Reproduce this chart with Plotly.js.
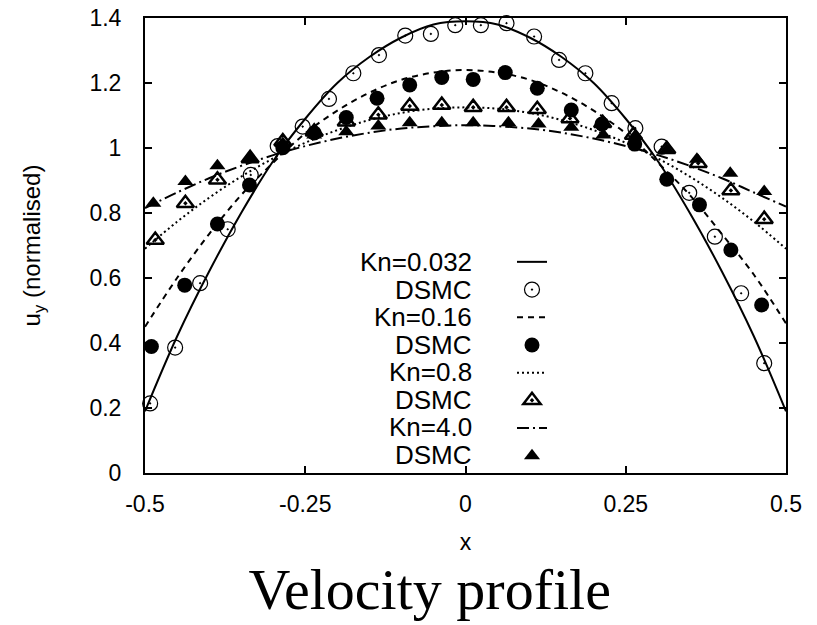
<!DOCTYPE html>
<html>
<head>
<meta charset="utf-8">
<script src="https://cdn.plot.ly/plotly-3.0.1.min.js"></script>
<style>html,body{margin:0;padding:0;background:#fff;}#chart{width:817px;height:625px;}</style>
</head>
<body>
<div id="chart"></div>
<script>
// Analytical curves
const xCurve = [-0.5,-0.45,-0.4,-0.35,-0.3,-0.25,-0.2,-0.15,-0.1,-0.05,0,0.05,0.1,0.15,0.2,0.25,0.3,0.35,0.4,0.45,0.5];
const yKn0032 = [0.19,0.42,0.62,0.80,0.96,1.09,1.20,1.28,1.34,1.38,1.39,1.38,1.34,1.28,1.20,1.09,0.96,0.80,0.62,0.42,0.19];
const yKn016  = [0.45,0.60,0.735,0.855,0.955,1.045,1.115,1.17,1.21,1.232,1.24,1.232,1.21,1.17,1.115,1.045,0.955,0.855,0.735,0.61,0.46];
const yKn08   = [0.69,0.773,0.847,0.912,0.968,1.016,1.055,1.086,1.108,1.121,1.125,1.121,1.108,1.086,1.055,1.016,0.968,0.912,0.847,0.773,0.69];
const yKn40   = [0.815,0.863,0.907,0.945,0.978,1.006,1.029,1.047,1.06,1.067,1.07,1.067,1.06,1.047,1.029,1.006,0.978,0.945,0.907,0.863,0.82];

// DSMC points
const xD0032 = [-0.492,-0.453,-0.414,-0.371,-0.335,-0.293,-0.254,-0.213,-0.175,-0.135,-0.094,-0.054,-0.016,0.024,0.064,0.107,0.146,0.187,0.228,0.265,0.306,0.349,0.389,0.430,0.466];
const yD0032 = [0.214,0.386,0.584,0.750,0.917,1.006,1.066,1.151,1.230,1.286,1.346,1.351,1.378,1.378,1.384,1.343,1.271,1.230,1.138,1.061,1.004,0.862,0.727,0.553,0.338];
const xD016 = [-0.490,-0.438,-0.387,-0.337,-0.285,-0.236,-0.186,-0.138,-0.087,-0.037,0.012,0.062,0.112,0.165,0.213,0.264,0.314,0.365,0.414,0.462];
const yD016 = [0.389,0.578,0.766,0.886,1.001,1.046,1.094,1.153,1.194,1.217,1.211,1.232,1.184,1.117,1.074,1.012,0.904,0.825,0.686,0.517];
const xD08 = [-0.484,-0.437,-0.387,-0.336,-0.285,-0.236,-0.186,-0.136,-0.087,-0.037,0.012,0.064,0.112,0.163,0.214,0.262,0.314,0.363,0.414,0.466];
const yD08 = [0.717,0.830,0.902,0.968,1.020,1.050,1.081,1.102,1.129,1.132,1.125,1.125,1.119,1.091,1.076,1.040,0.996,0.953,0.869,0.781];
const xD40 = [-0.487,-0.437,-0.387,-0.336,-0.285,-0.236,-0.186,-0.136,-0.087,-0.037,0.012,0.067,0.114,0.165,0.215,0.264,0.314,0.361,0.413,0.466];
const yD40 = [0.830,0.897,0.945,0.971,1.014,1.040,1.050,1.068,1.078,1.078,1.078,1.078,1.074,1.064,1.040,1.035,0.994,0.965,0.922,0.866];

const legendLabels = ['Kn=0.032','DSMC','Kn=0.16','DSMC','Kn=0.8','DSMC','Kn=4.0','DSMC'];
const xTicks = [-0.5,-0.25,0,0.25,0.5];
const xTickText = ['-0.5','-0.25','0','0.25','0.5'];
const yTicks = [0,0.2,0.4,0.6,0.8,1,1.2,1.4];
const yTickText = ['0','0.2','0.4','0.6','0.8','1','1.2','1.4'];

const black = '#000';
const traces = [
  {x:xCurve, y:yKn0032, mode:'lines', name:'', line:{color:black,width:2,shape:'spline'}},
  {x:xD0032, y:yD0032, mode:'markers', name:'', marker:{symbol:'circle-open-dot',size:15,color:black,line:{width:1.2,color:black}}},
  {x:xCurve, y:yKn016, mode:'lines', name:'', line:{color:black,width:2,dash:'6px,5px',shape:'spline'}},
  {x:xD016, y:yD016, mode:'markers', name:'', marker:{symbol:'circle',size:15,color:black}},
  {x:xCurve, y:yKn08, mode:'lines', name:'', line:{color:black,width:2,dash:'2px,3px',shape:'spline'}},
  {x:xD08, y:yD08, mode:'markers', name:'', marker:{symbol:'triangle-up-open-dot',size:15,color:black,line:{width:2.5,color:black}}},
  {x:xCurve, y:yKn40, mode:'lines', name:'', line:{color:black,width:2,dash:'12px,4px,2px,4px',shape:'spline'}},
  {x:xD40, y:yD40, mode:'markers', name:'', marker:{symbol:'triangle-up',size:14,color:black}}
];
traces.forEach(t => { t.cliponaxis = false; t.showlegend = true; });

const rowY = [262,290,317,345,372,400,427,455];
const annotations = legendLabels.map((txt,i) => ({
  text: txt, xref:'paper', yref:'paper', x:(474-145)/641, y:(473-rowY[i])/455,
  xanchor:'right', yanchor:'middle', showarrow:false,
  font:{family:'Liberation Sans, Arial, sans-serif', size:26, color:black}
}));

const font = {family:'Liberation Sans, Arial, sans-serif', color:black};
const layout = {
  width:817, height:625,
  margin:{l:145, r:31, t:18, b:152, pad:0},
  paper_bgcolor:'#fff', plot_bgcolor:'#fff',
  font: Object.assign({size:23}, font),
  title:{text:'Velocity profile', font:{family:'Liberation Serif, Times New Roman, serif', size:58, color:black},
         xref:'container', yref:'container', x:0.526, xanchor:'center', y:0.058, yanchor:'middle'},
  xaxis:{range:[-0.5,0.5], tickvals:xTicks, ticktext:xTickText, ticks:'inside', ticklen:7, tickwidth:2, tickcolor:black,
         showline:true, linewidth:2, linecolor:black, mirror:'ticks', showgrid:false, zeroline:false,
         tickfont:Object.assign({size:23}, font), ticklabelstandoff:9,
         title:{text:'x', font:Object.assign({size:23}, font), standoff:18}},
  yaxis:{range:[0,1.4], tickvals:yTicks, ticktext:yTickText, ticks:'inside', ticklen:7, tickwidth:2, tickcolor:black,
         showline:true, linewidth:2, linecolor:black, mirror:'ticks', showgrid:false, zeroline:false,
         tickfont:Object.assign({size:23}, font), ticklabelstandoff:17,
         title:{text:'u<sub>y</sub> (normalised)', font:Object.assign({size:24}, font), standoff:42}},
  showlegend:true,
  legend:{x:(512-145)/641, y:(473-243)/455, xanchor:'left', yanchor:'top', bgcolor:'rgba(0,0,0,0)', borderwidth:0,
          font:Object.assign({size:19}, font), traceorder:'normal', itemwidth:30},
  annotations: annotations
};

Plotly.newPlot('chart', traces, layout, {displayModeBar:false, staticPlot:true});
</script>
</body>
</html>
